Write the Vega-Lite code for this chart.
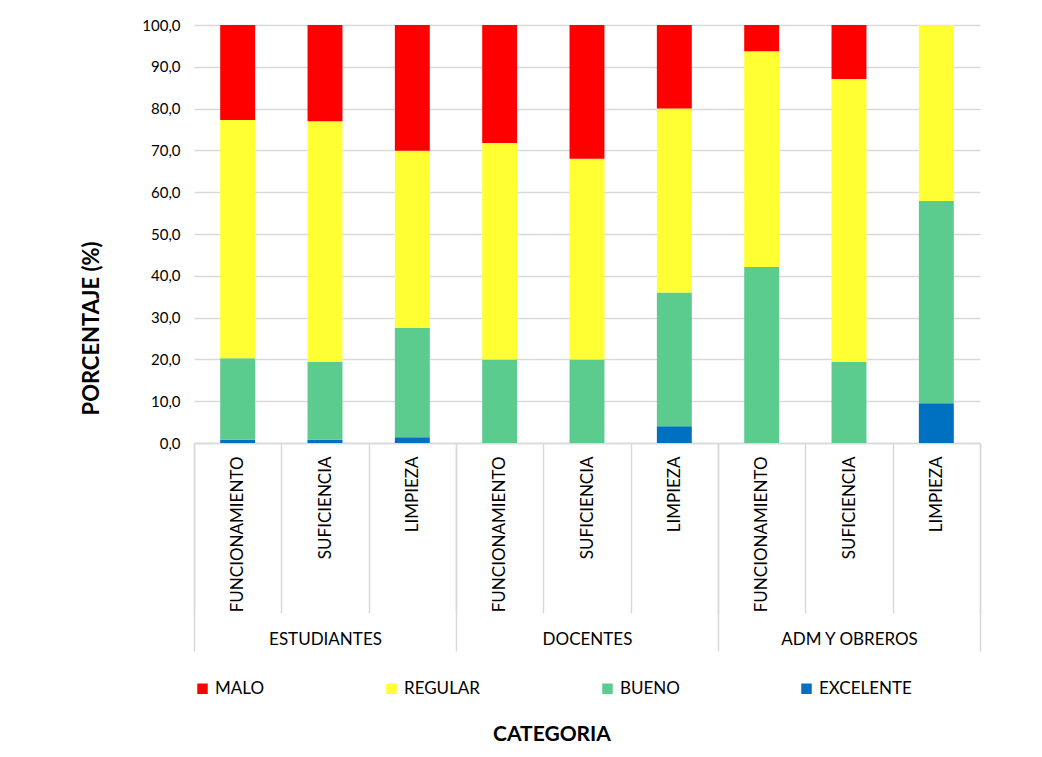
{
  "$schema": "https://vega.github.io/schema/vega-lite/v6.json",
  "autosize": {"type": "none"},
  "width": 786,
  "height": 418,
  "padding": {"left": 194, "top": 25, "right": 62, "bottom": 314},
  "background": "white",
  "config": {
    "font": "Lato",
    "view": {"stroke": null},
    "axis": {"labelFont": "Lato", "titleFont": "Lato", "labelColor": "#000000", "titleColor": "#000000"},
    "legend": {"labelFont": "Lato", "titleFont": "Lato"}
  },
  "title": {"text": "CATEGORIA", "orient": "bottom", "anchor": "middle", "fontSize": 21, "fontWeight": "bold", "font": "Lato", "color": "#000000", "offset": 27, "dx": -35},
  "data": {
    "values": [
      {"grupo": "ESTUDIANTES", "id": "ESTUDIANTES|FUNCIONAMIENTO", "cat": "EXCELENTE", "valor": 0.8},
      {"grupo": "ESTUDIANTES", "id": "ESTUDIANTES|FUNCIONAMIENTO", "cat": "BUENO", "valor": 19.5},
      {"grupo": "ESTUDIANTES", "id": "ESTUDIANTES|FUNCIONAMIENTO", "cat": "REGULAR", "valor": 57.0},
      {"grupo": "ESTUDIANTES", "id": "ESTUDIANTES|FUNCIONAMIENTO", "cat": "MALO", "valor": 22.7},
      {"grupo": "ESTUDIANTES", "id": "ESTUDIANTES|SUFICIENCIA", "cat": "EXCELENTE", "valor": 0.8},
      {"grupo": "ESTUDIANTES", "id": "ESTUDIANTES|SUFICIENCIA", "cat": "BUENO", "valor": 18.6},
      {"grupo": "ESTUDIANTES", "id": "ESTUDIANTES|SUFICIENCIA", "cat": "REGULAR", "valor": 57.6},
      {"grupo": "ESTUDIANTES", "id": "ESTUDIANTES|SUFICIENCIA", "cat": "MALO", "valor": 23.0},
      {"grupo": "ESTUDIANTES", "id": "ESTUDIANTES|LIMPIEZA", "cat": "EXCELENTE", "valor": 1.4},
      {"grupo": "ESTUDIANTES", "id": "ESTUDIANTES|LIMPIEZA", "cat": "BUENO", "valor": 26.1},
      {"grupo": "ESTUDIANTES", "id": "ESTUDIANTES|LIMPIEZA", "cat": "REGULAR", "valor": 42.4},
      {"grupo": "ESTUDIANTES", "id": "ESTUDIANTES|LIMPIEZA", "cat": "MALO", "valor": 30.1},
      {"grupo": "DOCENTES", "id": "DOCENTES|FUNCIONAMIENTO", "cat": "EXCELENTE", "valor": 0},
      {"grupo": "DOCENTES", "id": "DOCENTES|FUNCIONAMIENTO", "cat": "BUENO", "valor": 20.0},
      {"grupo": "DOCENTES", "id": "DOCENTES|FUNCIONAMIENTO", "cat": "REGULAR", "valor": 51.8},
      {"grupo": "DOCENTES", "id": "DOCENTES|FUNCIONAMIENTO", "cat": "MALO", "valor": 28.2},
      {"grupo": "DOCENTES", "id": "DOCENTES|SUFICIENCIA", "cat": "EXCELENTE", "valor": 0},
      {"grupo": "DOCENTES", "id": "DOCENTES|SUFICIENCIA", "cat": "BUENO", "valor": 20.0},
      {"grupo": "DOCENTES", "id": "DOCENTES|SUFICIENCIA", "cat": "REGULAR", "valor": 48.0},
      {"grupo": "DOCENTES", "id": "DOCENTES|SUFICIENCIA", "cat": "MALO", "valor": 32.0},
      {"grupo": "DOCENTES", "id": "DOCENTES|LIMPIEZA", "cat": "EXCELENTE", "valor": 4.0},
      {"grupo": "DOCENTES", "id": "DOCENTES|LIMPIEZA", "cat": "BUENO", "valor": 32.0},
      {"grupo": "DOCENTES", "id": "DOCENTES|LIMPIEZA", "cat": "REGULAR", "valor": 44.0},
      {"grupo": "DOCENTES", "id": "DOCENTES|LIMPIEZA", "cat": "MALO", "valor": 20.0},
      {"grupo": "ADM Y OBREROS", "id": "ADM Y OBREROS|FUNCIONAMIENTO", "cat": "EXCELENTE", "valor": 0},
      {"grupo": "ADM Y OBREROS", "id": "ADM Y OBREROS|FUNCIONAMIENTO", "cat": "BUENO", "valor": 42.1},
      {"grupo": "ADM Y OBREROS", "id": "ADM Y OBREROS|FUNCIONAMIENTO", "cat": "REGULAR", "valor": 51.6},
      {"grupo": "ADM Y OBREROS", "id": "ADM Y OBREROS|FUNCIONAMIENTO", "cat": "MALO", "valor": 6.3},
      {"grupo": "ADM Y OBREROS", "id": "ADM Y OBREROS|SUFICIENCIA", "cat": "EXCELENTE", "valor": 0},
      {"grupo": "ADM Y OBREROS", "id": "ADM Y OBREROS|SUFICIENCIA", "cat": "BUENO", "valor": 19.4},
      {"grupo": "ADM Y OBREROS", "id": "ADM Y OBREROS|SUFICIENCIA", "cat": "REGULAR", "valor": 67.7},
      {"grupo": "ADM Y OBREROS", "id": "ADM Y OBREROS|SUFICIENCIA", "cat": "MALO", "valor": 12.9},
      {"grupo": "ADM Y OBREROS", "id": "ADM Y OBREROS|LIMPIEZA", "cat": "EXCELENTE", "valor": 9.5},
      {"grupo": "ADM Y OBREROS", "id": "ADM Y OBREROS|LIMPIEZA", "cat": "BUENO", "valor": 48.4},
      {"grupo": "ADM Y OBREROS", "id": "ADM Y OBREROS|LIMPIEZA", "cat": "REGULAR", "valor": 42.1},
      {"grupo": "ADM Y OBREROS", "id": "ADM Y OBREROS|LIMPIEZA", "cat": "MALO", "valor": 0}
    ]
  },
  "layer": [
    {
      "transform": [{"calculate": "indexof(['EXCELENTE', 'BUENO', 'REGULAR', 'MALO'], datum.cat)", "as": "orden"}],
      "mark": {"type": "bar", "width": {"band": 0.4}},
      "encoding": {
        "x": {
          "field": "id", "type": "nominal", "sort": null,
          "scale": {"paddingInner": 0, "paddingOuter": 0},
          "axis": {
            "orient": "bottom", "title": null,
            "labelExpr": "split(datum.label, '|')[1]",
            "labelAngle": -90, "labelFontSize": 17, "labelPadding": -157,
            "tickBand": "extent", "tickSize": 170, "tickColor": "#d9d9d9", "tickWidth": 1.5,
            "domainColor": "#d9d9d9", "domainWidth": 1.5
          }
        },
        "y": {
          "field": "valor", "type": "quantitative", "stack": "zero",
          "scale": {"domain": [0, 100], "nice": false},
          "axis": {
            "title": "PORCENTAJE (%)", "titleFontSize": 22, "titleFontWeight": "bold", "titlePadding": 38,
            "titleY": 303,
            "values": [0, 10, 20, 30, 40, 50, 60, 70, 80, 90, 100],
            "labelExpr": "replace(format(datum.value, '.1f'), '.', ',')",
            "labelFontSize": 15, "labelPadding": 14,
            "ticks": false, "domain": false,
            "gridColor": "#d9d9d9", "gridWidth": 1.5
          }
        },
        "order": {"field": "orden", "type": "quantitative", "sort": "ascending"},
        "color": {
          "field": "cat", "type": "nominal",
          "scale": {"domain": ["MALO", "REGULAR", "BUENO", "EXCELENTE"], "range": ["#FF0000", "#FFFF33", "#5ccb8e", "#0070C0"]},
          "legend": {
            "title": null, "orient": "bottom", "direction": "horizontal", "columns": 4,
            "columnPadding": 118, "symbolType": "square", "symbolSize": 110, "symbolStrokeWidth": 0,
            "labelFontSize": 17, "labelColor": "#000000", "offset": 28, "labelOffset": 4
          }
        }
      }
    },
    {
      "mark": {"type": "rule", "strokeOpacity": 0},
      "encoding": {
        "x": {
          "field": "grupo", "type": "nominal", "sort": null,
          "scale": {"paddingInner": 0, "paddingOuter": 0},
          "axis": {
            "orient": "bottom", "title": null, "labelAngle": 0, "labelFontSize": 17,
            "labelPadding": -20, "labelBaseline": "top",
            "tickBand": "extent", "tickSize": 208, "tickColor": "#d9d9d9", "tickWidth": 1.5,
            "domain": false
          }
        }
      }
    }
  ],
  "resolve": {"scale": {"x": "independent"}, "axis": {"x": "independent"}}
}
